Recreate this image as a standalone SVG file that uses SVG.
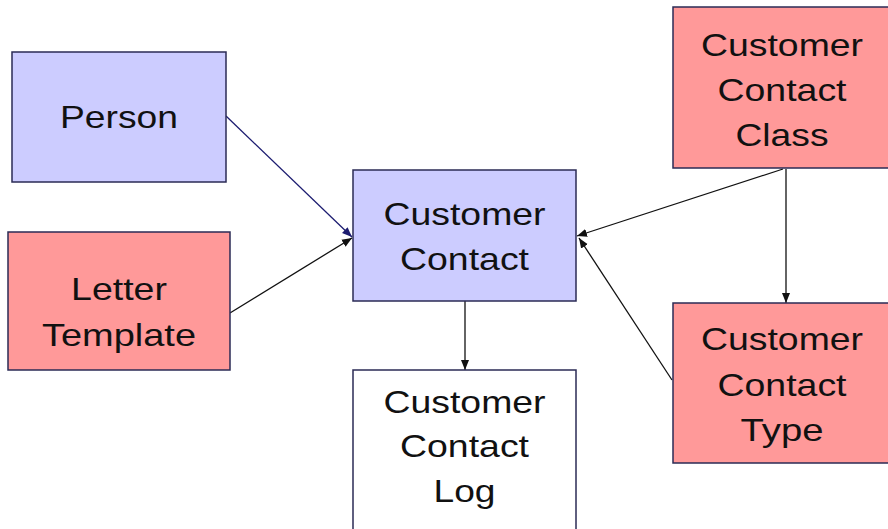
<svg xmlns="http://www.w3.org/2000/svg" width="888" height="529" viewBox="0 0 888 529">
<style>
.box{stroke:#2b2b55;stroke-width:1.5}
.blue{fill:#ccccff}
.red{fill:#ff9999}
.white{fill:#ffffff}
text{font-family:"Liberation Sans",Arial,sans-serif;font-size:32px;fill:#111;text-anchor:middle}
.conn{stroke:#111;stroke-width:1.3;fill:none}
.navy{stroke:#1c1c70}
</style>
<defs>
<marker id="ah" viewBox="0 0 10 10" refX="10" refY="5" markerWidth="10" markerHeight="10" markerUnits="userSpaceOnUse" orient="auto">
<path d="M0,1 L10,5 L0,9 Z" fill="#111"/>
</marker>
<marker id="ahn" viewBox="0 0 10 10" refX="10" refY="5" markerWidth="10" markerHeight="10" markerUnits="userSpaceOnUse" orient="auto">
<path d="M0,1 L10,5 L0,9 Z" fill="#1c1c70"/>
</marker>
</defs>
<rect width="888" height="529" fill="#ffffff"/>
<g id="connectors">
<line class="conn navy" x1="226" y1="116" x2="352" y2="237" marker-end="url(#ahn)"/>
<line class="conn" x1="230" y1="313" x2="352" y2="238" marker-end="url(#ah)"/>
<line class="conn" x1="783" y1="169" x2="577" y2="236" marker-end="url(#ah)"/>
<line class="conn" x1="672" y1="380" x2="579" y2="238" marker-end="url(#ah)"/>
<line class="conn" x1="786" y1="169" x2="786" y2="303" marker-end="url(#ah)"/>
<line class="conn" x1="465" y1="301" x2="465" y2="370" marker-end="url(#ah)"/>
</g>
<g id="person">
<rect class="box blue" x="12" y="52" width="214" height="130"/>
<text x="119" y="128" textLength="118" lengthAdjust="spacingAndGlyphs">Person</text>
</g>
<g id="letter-template">
<rect class="box red" x="8" y="232" width="222" height="138"/>
<text x="119" y="300" textLength="96" lengthAdjust="spacingAndGlyphs">Letter</text>
<text x="119" y="346" textLength="154" lengthAdjust="spacingAndGlyphs">Template</text>
</g>
<g id="customer-contact">
<rect class="box blue" x="353" y="170" width="223" height="131"/>
<text x="464.5" y="225" textLength="162" lengthAdjust="spacingAndGlyphs">Customer</text>
<text x="464.5" y="270" textLength="129" lengthAdjust="spacingAndGlyphs">Contact</text>
</g>
<g id="customer-contact-log">
<rect class="box white" x="353" y="370" width="223" height="170"/>
<text x="464.5" y="413" textLength="162" lengthAdjust="spacingAndGlyphs">Customer</text>
<text x="464.5" y="457" textLength="129" lengthAdjust="spacingAndGlyphs">Contact</text>
<text x="464.5" y="502" textLength="62" lengthAdjust="spacingAndGlyphs">Log</text>
</g>
<g id="customer-contact-class">
<rect class="box red" x="673" y="7" width="220" height="161"/>
<text x="782" y="56" textLength="162" lengthAdjust="spacingAndGlyphs">Customer</text>
<text x="782" y="101" textLength="129" lengthAdjust="spacingAndGlyphs">Contact</text>
<text x="782" y="146" textLength="93" lengthAdjust="spacingAndGlyphs">Class</text>
</g>
<g id="customer-contact-type">
<rect class="box red" x="673" y="303" width="220" height="160"/>
<text x="782" y="350" textLength="162" lengthAdjust="spacingAndGlyphs">Customer</text>
<text x="782" y="396" textLength="129" lengthAdjust="spacingAndGlyphs">Contact</text>
<text x="782" y="441" textLength="83" lengthAdjust="spacingAndGlyphs">Type</text>
</g>
</svg>
